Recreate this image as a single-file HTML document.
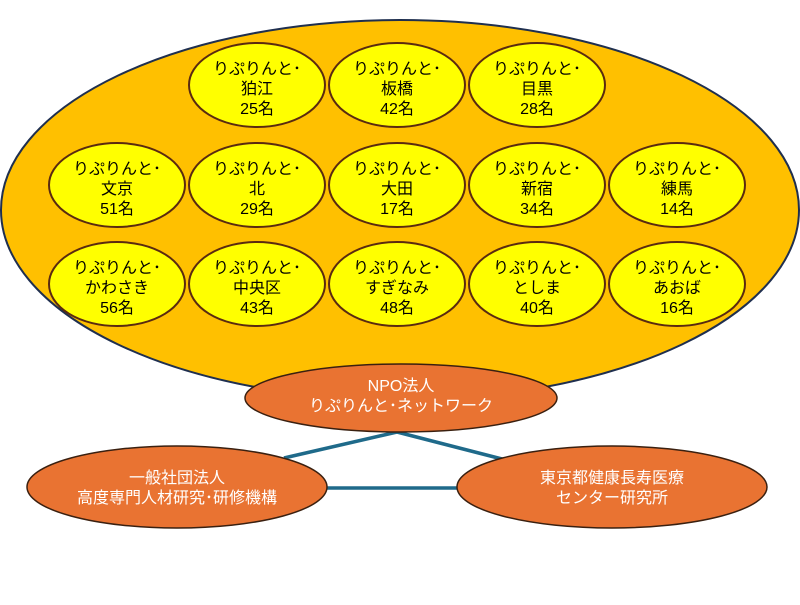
<!DOCTYPE html>
<html><head><meta charset="utf-8"><style>
html,body{margin:0;padding:0;background:#fff;}
svg text{font-family:"Liberation Sans","Noto Sans CJK JP",sans-serif;}
</style></head><body>
<svg width="800" height="600" viewBox="0 0 800 600" xmlns="http://www.w3.org/2000/svg">
<ellipse cx="400" cy="210" rx="399" ry="190" fill="#FFC000" stroke="#1F2F4F" stroke-width="2"/>
<g fill="#FFFF00" stroke="#5A2A10" stroke-width="2">
<ellipse cx="257" cy="85" rx="68" ry="42"/><ellipse cx="397" cy="85" rx="68" ry="42"/><ellipse cx="537" cy="85" rx="68" ry="42"/>
<ellipse cx="117" cy="185" rx="68" ry="42"/><ellipse cx="257" cy="185" rx="68" ry="42"/><ellipse cx="397" cy="185" rx="68" ry="42"/><ellipse cx="537" cy="185" rx="68" ry="42"/><ellipse cx="677" cy="185" rx="68" ry="42"/>
<ellipse cx="117" cy="284" rx="68" ry="42"/><ellipse cx="257" cy="284" rx="68" ry="42"/><ellipse cx="397" cy="284" rx="68" ry="42"/><ellipse cx="537" cy="284" rx="68" ry="42"/><ellipse cx="677" cy="284" rx="68" ry="42"/>
</g>
<g font-size="16" fill="#000" text-anchor="middle">
<text x="257" y="74">りぷりんと･</text><text x="257" y="94">狛江</text><text x="257" y="114">25名</text>
<text x="397" y="74">りぷりんと･</text><text x="397" y="94">板橋</text><text x="397" y="114">42名</text>
<text x="537" y="74">りぷりんと･</text><text x="537" y="94">目黒</text><text x="537" y="114">28名</text>
<text x="117" y="174">りぷりんと･</text><text x="117" y="194">文京</text><text x="117" y="214">51名</text>
<text x="257" y="174">りぷりんと･</text><text x="257" y="194">北</text><text x="257" y="214">29名</text>
<text x="397" y="174">りぷりんと･</text><text x="397" y="194">大田</text><text x="397" y="214">17名</text>
<text x="537" y="174">りぷりんと･</text><text x="537" y="194">新宿</text><text x="537" y="214">34名</text>
<text x="677" y="174">りぷりんと･</text><text x="677" y="194">練馬</text><text x="677" y="214">14名</text>
<text x="117" y="273">りぷりんと･</text><text x="117" y="293">かわさき</text><text x="117" y="313">56名</text>
<text x="257" y="273">りぷりんと･</text><text x="257" y="293">中央区</text><text x="257" y="313">43名</text>
<text x="397" y="273">りぷりんと･</text><text x="397" y="293">すぎなみ</text><text x="397" y="313">48名</text>
<text x="537" y="273">りぷりんと･</text><text x="537" y="293">としま</text><text x="537" y="313">40名</text>
<text x="677" y="273">りぷりんと･</text><text x="677" y="293">あおば</text><text x="677" y="313">16名</text>
</g>
<g stroke="#1F6A8A" stroke-width="3.5" fill="none">
<line x1="397" y1="432" x2="284" y2="458"/><line x1="397" y1="432" x2="502" y2="459"/><line x1="325" y1="488" x2="459" y2="488"/>
</g>
<g fill="#E97332" stroke="#3A2010" stroke-width="1.5">
<ellipse cx="401" cy="398" rx="156" ry="34"/>
<ellipse cx="177" cy="487" rx="150" ry="41"/>
<ellipse cx="612" cy="487" rx="155" ry="41"/>
</g>
<g font-size="16" fill="#fff" text-anchor="middle">
<text x="401" y="391">NPO法人</text><text x="401" y="411">りぷりんと･ネットワーク</text>
<text x="177" y="483">一般社団法人</text><text x="177" y="503">高度専門人材研究･研修機構</text>
<text x="612" y="483">東京都健康長寿医療</text><text x="612" y="503">センター研究所</text>
</g>
</svg>
</body></html>
